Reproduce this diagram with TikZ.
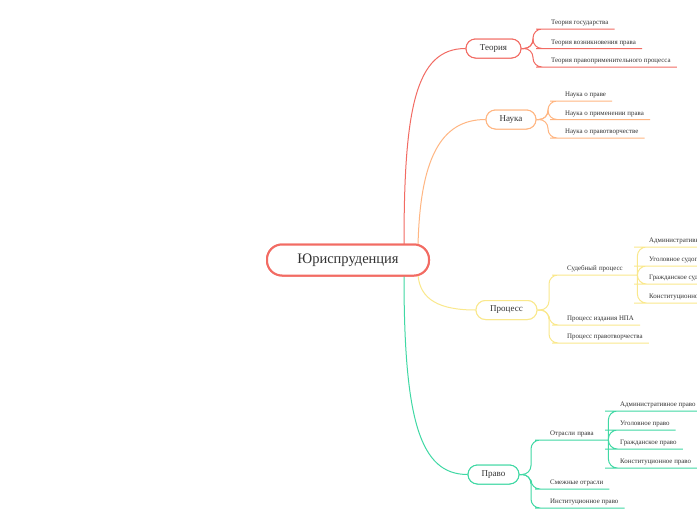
\documentclass[tikz,border=0pt]{standalone}
\usepackage{fontspec}
\setmainfont{Liberation Serif}
\definecolor{cred}{HTML}{F26B63}
\definecolor{cora}{HTML}{FFB682}
\definecolor{cyel}{HTML}{FAE88C}
\definecolor{cgrn}{HTML}{3FD8A4}
\definecolor{ctxt}{HTML}{333333}
\begin{document}
\begin{tikzpicture}[x=1pt,y=-1pt,
  rootbox/.style={draw=cred,line width=2pt,fill=white,rounded corners=15pt,minimum width=162pt,minimum height=31pt,font=\fontsize{14.5}{16}\selectfont,text=ctxt,inner sep=0pt},
  mainbox/.style={draw=#1,line width=1pt,fill=white,rounded corners=9.5pt,minimum height=19pt,font=\fontsize{9}{10}\selectfont,text=ctxt,inner sep=0pt},
  leaf/.style={anchor=south west,inner xsep=6pt,inner ysep=2.5pt,font=\fontsize{6.9}{7.5}\selectfont,text=ctxt},
  hub/.style={leaf,align=left,text width=#1},
  link/.style={draw=#1,line width=1pt},
  brk/.style={draw=#1,line width=1pt,rounded corners=9pt},
]
\useasboundingbox (0,0) rectangle (697,520);
\clip (0,0) rectangle (697,520);
\fill[white] (0,0) rectangle (697,520);

\node[rootbox] (R) at (348,260) {Юриспруденция};
\coordinate (r1) at (404,245);
\coordinate (r2) at (418,246);
\coordinate (r3) at (418,275);
\coordinate (r4) at (404,276);

\node[mainbox=cred,minimum width=55pt] (T) at (493.5,48.5) {Теория};
\node[mainbox=cora,minimum width=50pt] (N) at (511,119.5) {Наука};
\node[mainbox=cyel,minimum width=61pt] (P) at (506.5,310) {Процесс};
\node[mainbox=cgrn,minimum width=51pt] (L) at (493.5,474.5) {Право};

\draw[link=cred] (r1) .. controls (404,110) and (415,48.5) .. (T.west);
\draw[link=cora] (r2) .. controls (420,160) and (440,119.5) .. (N.west);
\draw[link=cyel] (r3) .. controls (420,300) and (440,310) .. (P.west);
\draw[link=cgrn] (r4) .. controls (404,420) and (420,474.5) .. (L.west);
\node[rootbox] at (R) {Юриспруденция};
\node[mainbox=cred,minimum width=55pt] at (T) {Теория};
\node[mainbox=cora,minimum width=50pt] at (N) {Наука};
\node[mainbox=cyel,minimum width=61pt] at (P) {Процесс};
\node[mainbox=cgrn,minimum width=51pt] at (L) {Право};

% Теория leaves
\node[leaf] (t1) at (545,29) {Теория государства};
\node[leaf] (t2) at (545,48.5) {Теория возникновения права};
\node[leaf] (t3) at (545,67) {Теория правоприменительного процесса};
\foreach \n in {t1,t2,t3} {
  \draw[brk=cred] (T.east) -- (533,48.5) |- (\n.south west) -- (\n.south east);
}

% Наука leaves
\node[leaf] (n1) at (559,101) {Наука о праве};
\node[leaf] (n2) at (559,119.5) {Наука о применении права};
\node[leaf] (n3) at (559,138) {Наука о правотворчестве};
\foreach \n in {n1,n2,n3} {
  \draw[brk=cora] (N.east) -- (548,119.5) |- (\n.south west) -- (\n.south east);
}

% Процесс leaves
\node[hub=64pt] (p1) at (561,275) {Судебный процесс};
\node[leaf] (p2) at (561,325) {Процесс издания НПА};
\node[leaf] (p3) at (561,343) {Процесс правотворчества};
\foreach \n in {p1,p2,p3} {
  \draw[brk=cyel] (P.east) -- (549,310) |- (\n.south west) -- (\n.south east);
}
\node[leaf] (s1) at (643,247) {Административное судопроизводство};
\node[leaf] (s2) at (643,266) {Уголовное судопроизводство};
\node[leaf] (s3) at (643,284) {Гражданское судопроизводство};
\node[leaf] (s4) at (643,303) {Конституционное судопроизводство};
\foreach \n in {s1,s2,s3,s4} {
  \draw[brk=cyel] (p1.south east) |- (\n.south west) -- (\n.south east);
}

% Право leaves
\node[hub=52pt] (l1) at (544,440) {Отрасли права};
\node[leaf] (l2) at (544,489) {Смежные отрасли};
\node[leaf] (l3) at (544,508) {Институционное право};
\foreach \n in {l1,l2,l3} {
  \draw[brk=cgrn] (L.east) -- (531,474.5) |- (\n.south west) -- (\n.south east);
}
\node[leaf] (g1) at (614,411) {Административное право};
\node[leaf] (g2) at (614,430) {Уголовное право};
\node[leaf] (g3) at (614,449) {Гражданское право};
\node[leaf] (g4) at (614,468) {Конституционное право};
\foreach \n in {g1,g2,g3,g4} {
  \draw[brk=cgrn] (l1.south east) |- (\n.south west) -- (\n.south east);
}
\end{tikzpicture}
\end{document}
